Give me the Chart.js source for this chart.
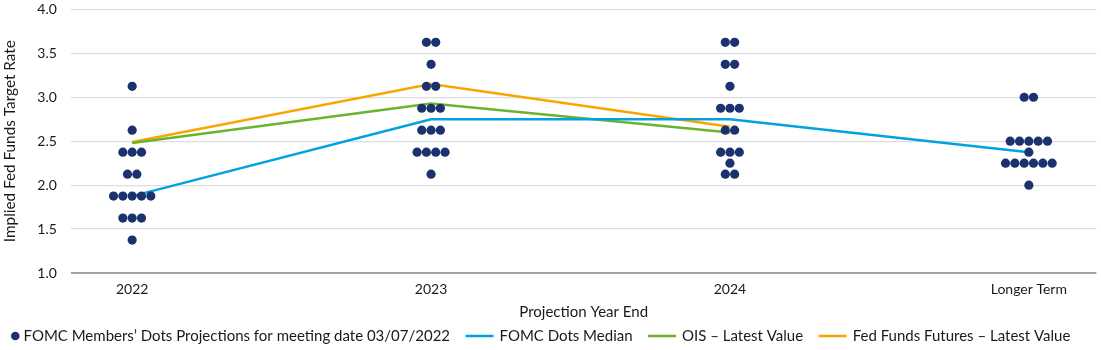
<!DOCTYPE html>
<html><head><meta charset="utf-8">
<script src="https://cdn.jsdelivr.net/npm/chart.js@4.4.1/dist/chart.umd.min.js"></script>
<style>html,body{margin:0;padding:0;background:#fff}#wrap{width:1101px;height:350px;position:relative}</style>
</head><body><div id="wrap"><canvas id="c"></canvas></div>
<script>
// ---- data ----
const categories = ['2022', '2023', '2024', 'Longer Term'];
const dots2022 = [3.125, 2.625, 2.375, 2.375, 2.375, 2.125, 2.125, 1.875, 1.875, 1.875, 1.875, 1.875, 1.625, 1.625, 1.625, 1.375];
const dots2023 = [3.625, 3.625, 3.375, 3.125, 3.125, 2.875, 2.875, 2.875, 2.625, 2.625, 2.625, 2.375, 2.375, 2.375, 2.375, 2.125];
const dots2024 = [3.625, 3.625, 3.375, 3.375, 3.125, 2.875, 2.875, 2.875, 2.625, 2.625, 2.375, 2.375, 2.375, 2.25, 2.125, 2.125];
const dotsLonger = [3.0, 3.0, 2.5, 2.5, 2.5, 2.5, 2.5, 2.375, 2.25, 2.25, 2.25, 2.25, 2.25, 2.25, 2.0];
const medianValues = [1.875, 2.75, 2.75, 2.375];
const oisValues = [2.48, 2.93, 2.60, null];
const futuresValues = [2.49, 3.15, 2.665, null];
const yTicks = [1.0, 1.5, 2.0, 2.5, 3.0, 3.5, 4.0];
const seriesLabels = ['FOMC Members\u2019 Dots Projections for meeting date 03/07/2022', 'FOMC Dots Median', 'OIS \u2013 Latest Value', 'Fed Funds Futures \u2013 Latest Value'];

// ---- styles ----
const NAVY = '#1b326e', BLUE = '#00a3e0', GREEN = '#6ab42d', ORANGE = '#f7a800';
const TEXT = '#1a1a1a';
const FONT = 'Lato, "Open Sans", sans-serif';
const DOT_STEP = 0.0312; // horizontal spacing of same-value dots, in category units

function dotPoints(lists) {
  const pts = [];
  lists.forEach((vals, i) => {
    const groups = new Map();
    vals.forEach(v => groups.set(v, (groups.get(v) || 0) + 1));
    groups.forEach((n, v) => {
      for (let k = 0; k < n; k++) pts.push({ x: i + (k - (n - 1) / 2) * DOT_STEP, y: v });
    });
  });
  return pts;
}
function linePoints(vals) {
  return vals.map((v, i) => v == null ? null : { x: i, y: v }).filter(p => p);
}

const legendPlugin = {
  id: 'customLegend',
  afterDraw(chart) {
    const ctx = chart.ctx;
    ctx.save();
    ctx.font = '15px ' + FONT;
    ctx.textBaseline = 'middle';
    const y = 336;
    let x = 11;
    chart.data.datasets.forEach((ds, i) => {
      if (i === 0) {
        ctx.beginPath();
        ctx.fillStyle = NAVY;
        ctx.arc(x + 4.3, y, 4.3, 0, Math.PI * 2);
        ctx.fill();
        x += 12.5;
      } else {
        ctx.beginPath();
        ctx.strokeStyle = ds.borderColor;
        ctx.lineWidth = 2.5;
        ctx.moveTo(x, y);
        ctx.lineTo(x + 28, y);
        ctx.stroke();
        x += 34;
      }
      ctx.fillStyle = TEXT;
      ctx.fillText(ds.label, x, y);
      x += ctx.measureText(ds.label).width + 15.5;
    });
    ctx.restore();
  }
};

new Chart(document.getElementById('c'), {
  data: {
    datasets: [
      { type: 'scatter', label: seriesLabels[0], data: dotPoints([dots2022, dots2023, dots2024, dotsLonger]),
        backgroundColor: NAVY, borderWidth: 0, pointRadius: 4.6, pointHoverRadius: 4.6 },
      { type: 'line', label: seriesLabels[1], data: linePoints(medianValues), borderColor: BLUE, borderWidth: 2.5, pointRadius: 0, tension: 0, fill: false },
      { type: 'line', label: seriesLabels[2], data: linePoints(oisValues), borderColor: GREEN, borderWidth: 2.5, pointRadius: 0, tension: 0, fill: false },
      { type: 'line', label: seriesLabels[3], data: linePoints(futuresValues), borderColor: ORANGE, borderWidth: 2.5, pointRadius: 0, tension: 0, fill: false }
    ]
  },
  options: {
    responsive: true, maintainAspectRatio: false, animation: false,
    layout: { padding: { top: 0, right: 4, left: 0, bottom: 29.2 } },
    plugins: { legend: { display: false }, tooltip: { enabled: false } },
    scales: {
      x: {
        type: 'linear', min: -0.205, max: 3.226,
        afterBuildTicks: axis => { axis.ticks = categories.map((c, i) => ({ value: i })); },
        ticks: { callback: v => categories[v], color: TEXT, font: { family: FONT, size: 14 }, padding: 5, maxRotation: 0, autoSkip: false },
        grid: { display: true, drawOnChartArea: false, drawTicks: true, tickLength: 3, color: 'rgba(0,0,0,0)', tickColor: 'rgba(0,0,0,0)' },
        border: { display: false },
        title: { display: true, text: 'Projection Year End', color: TEXT, font: { family: FONT, size: 15 }, padding: { top: 0, bottom: 0 } }
      },
      y: {
        type: 'linear', min: 1, max: 4,
        afterBuildTicks: axis => { axis.ticks = yTicks.map(v => ({ value: v })); },
        ticks: { callback: v => Number(v).toFixed(1), color: TEXT, font: { family: FONT, size: 14 }, padding: 1 },
        grid: { drawTicks: true, tickLength: 13, tickColor: 'rgba(0,0,0,0)',
                color: c => c.tick && c.tick.value === 1 ? '#a3a3a3' : '#dadde2',
                lineWidth: c => c.tick && c.tick.value === 1 ? 2 : 1.2 },
        border: { display: false },
        title: { display: true, text: 'Implied Fed Funds Target Rate', color: TEXT, font: { family: FONT, size: 15.3 }, padding: { top: 1, bottom: 17 } }
      }
    }
  },
  plugins: [legendPlugin]
});
</script>
</body></html>
